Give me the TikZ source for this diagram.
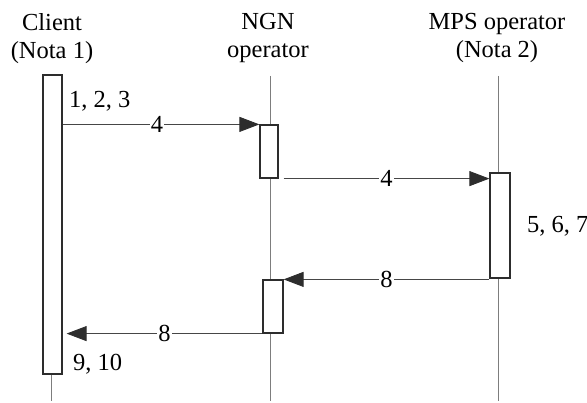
\documentclass[tikz,border=0pt]{standalone}
\usepackage{fontspec}
\setmainfont{Liberation Serif}
\usetikzlibrary{arrows.meta,positioning}
\definecolor{lifegray}{RGB}{125,125,125}
\definecolor{boxgray}{RGB}{45,45,45}
\definecolor{msggray}{RGB}{70,70,70}
\newcommand{\diagfont}{\fontsize{24.5}{28}\selectfont}
\tikzset{
  actor/.style={font=\diagfont, align=center, inner sep=0pt},
  lifeline/.style={draw=lifegray, line width=0.9pt},
  actbox/.style={draw=boxgray, line width=1.2pt, fill=white, inner sep=0pt},
  msg/.style={draw=msggray, line width=0.9pt, -{Triangle[length=20pt,width=15pt,color=boxgray]}},
  msglabel/.style={font=\diagfont, fill=white, inner sep=1pt},
  stepnote/.style={font=\diagfont, anchor=base west, inner sep=0pt}
}
\begin{document}
\begin{tikzpicture}[x=1pt,y=-1pt]
  \useasboundingbox (0,0) rectangle (587,403);

  % actors
  \node[actor] (client) at (52,38.5) {Client\\(Nota 1)};
  \node[actor] (ngn) at (268,38.5) {NGN\\operator};
  \node[actor] (mps) at (497,38.5) {MPS operator\\(Nota 2)};

  % lifelines
  \coordinate (client top) at (51,75);
  \coordinate (client end) at (51,401);
  \coordinate (ngn top) at (270,76);
  \coordinate (ngn end) at (270,401);
  \coordinate (mps top) at (498,76);
  \coordinate (mps end) at (498,401);
  \draw[lifeline] (client top) -- (client end);
  \draw[lifeline] (ngn top) -- (ngn end);
  \draw[lifeline] (mps top) -- (mps end);

  % activation boxes
  \node[actbox, minimum width=19pt, minimum height=299pt] (cbox) at (52.5,224.5) {};
  \node[actbox, minimum width=18pt, minimum height=53pt] (nbox1) at (269,151.5) {};
  \node[actbox, minimum width=20pt, minimum height=105pt] (mbox) at (500,225.5) {};
  \node[actbox, minimum width=20pt, minimum height=53pt] (nbox2) at (273,306.5) {};

  % messages
  \draw[msg] (cbox.east |- nbox1.north) -- node[msglabel, pos=0.48] {4} (nbox1.north west);
  \draw[msg] ([xshift=5pt]nbox1.south east) -- node[msglabel] {4} (mbox.west |- nbox1.south);
  \draw[msg] (nbox2.north east -| mbox.west) -- node[msglabel] {8} (nbox2.north east);
  \draw[msg] (nbox2.south west) -- node[msglabel] {8} ([xshift=4pt]cbox.east |- nbox2.south);

  % step numbers
  \node[stepnote] (steps a) at (69,108) {1, 2, 3};
  \node[stepnote] (steps b) at (527,233) {5, 6, 7};
  \node[stepnote] (steps c) at (73,371) {9, 10};
\end{tikzpicture}
\end{document}
